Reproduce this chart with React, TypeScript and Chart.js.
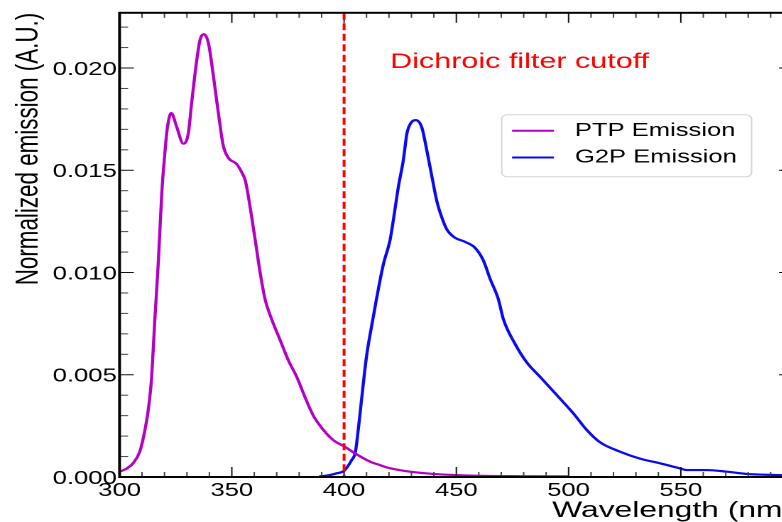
import { useEffect, useRef } from 'react';
import { Chart, registerables } from 'chart.js';

Chart.register(...registerables);

// ---------------- data ----------------
const ptpWavelength = [300, 303, 306, 309, 311, 312.8, 314.3, 315.5, 316.6, 317.3, 318.8, 320.3, 321.2, 323, 325.5, 328.4, 330.6, 332.2, 334.4, 335.9, 337.6, 339.6, 341.8, 344, 346.2, 348.5, 352.2, 354.4, 356, 357.4, 360.4, 362.6, 364.8, 367.8, 371.5, 375.2, 378.9, 382.6, 386.3, 390.8, 395.2, 400, 405.7, 411.6, 416, 419, 424, 429.4, 439.8, 450, 459, 480, 500];
const ptpEmission = [0.00026, 0.0004, 0.00067, 0.00124, 0.00214, 0.0033, 0.0049, 0.0073, 0.0093, 0.0106, 0.0139, 0.016, 0.017, 0.0178, 0.0171, 0.0163, 0.0168, 0.0184, 0.0204, 0.0214, 0.02165, 0.0212, 0.0196, 0.0178, 0.0162, 0.0156, 0.0153, 0.0149, 0.0145, 0.0137, 0.0116, 0.01, 0.0087, 0.0077, 0.0067, 0.0057, 0.0049, 0.0039, 0.003, 0.0023, 0.0018, 0.0015, 0.0011, 0.00075, 0.00058, 0.00047, 0.00035, 0.00026, 0.00015, 0.00009, 0.00006, 0.00004, 0.00003];

const g2pWavelength = [389, 393, 396.7, 400, 403.4, 405, 406.4, 408, 410, 412.3, 414.6, 417.5, 420.5, 422, 424.2, 426.4, 428, 429.7, 431.9, 434.6, 436.8, 439.1, 441.3, 443.5, 445.8, 449.4, 453.9, 458.4, 462, 465, 468.7, 471, 476.2, 481.4, 487.3, 494.8, 502.2, 508.1, 514, 522.9, 531.8, 540.8, 549.7, 552.6, 561.6, 570.5, 579.4, 591.2, 600];
const g2pEmission = [0.00003, 0.00008, 0.00018, 0.0003, 0.00083, 0.0012, 0.0024, 0.004, 0.0059, 0.0074, 0.0088, 0.0104, 0.0116, 0.0126, 0.0142, 0.0155, 0.0168, 0.0173, 0.01745, 0.0171, 0.016, 0.0147, 0.0135, 0.0127, 0.0121, 0.0117, 0.0115, 0.0112, 0.0106, 0.0097, 0.0087, 0.0077, 0.0065, 0.0056, 0.0049, 0.004, 0.0031, 0.0023, 0.0017, 0.00124, 0.0009, 0.00067, 0.00042, 0.00034, 0.00034, 0.00026, 0.00015, 0.0001, 0.00007];

const seriesLabels = ['PTP Emission', 'G2P Emission'];
const seriesColors = ['#b300c3', '#0a0af0'];

const xMajorTicks = [300, 350, 400, 450, 500, 550, 600];
const yMajorTicks = [0, 0.005, 0.01, 0.015, 0.02];
const X_MIN = 300;
const X_MAX = 600;
const Y_MIN = 0;
const Y_MAX = 0.0227;
const X_MINOR_STEP = 10;
const Y_MINOR_STEP = 0.001;

const cutoffWavelength = 400;
const cutoffLabel = 'Dichroic filter cutoff';
const cutoffLabelAt = { x: 420.5, y: 0.0203 };

const xTitle = 'Wavelength (nm)';
const yTitle = 'Normalized emission (A.U.)';

// ---------------- layout ----------------
const STRETCH = 1.42;
const CANVAS_W = 575;
const CANVAS_H = 522;
const PLOT_LEFT = 84.2;
const PLOT_TOP = 12;
const PLOT_BOTTOM = 477;
const PLOT_RIGHT = 558.5;
const FONT = "'Liberation Sans', Arial, Helvetica, sans-serif";

const rootFramePlugin = {
  id: 'rootFrame',
  afterDatasetsDraw(chart: any) {
    const { ctx, chartArea: a, scales } = chart;
    const x = scales.x;
    const y = scales.y;
    ctx.save();

    const seg = (x1: number, y1: number, x2: number, y2: number) => {
      ctx.beginPath();
      ctx.moveTo(x1, y1);
      ctx.lineTo(x2, y2);
      ctx.stroke();
    };

    // inside ticks on all four sides
    ctx.lineWidth = 1;
    for (let i = 0; X_MIN + i * X_MINOR_STEP <= X_MAX + 1e-9; i++) {
      const v = X_MIN + i * X_MINOR_STEP;
      const px = x.getPixelForValue(v);
      const major = xMajorTicks.includes(v);
      const len = major ? 10 : 5;
      ctx.strokeStyle = major ? '#111' : '#444';
      seg(px, a.bottom, px, a.bottom - len);
      seg(px, a.top, px, a.top + len);
    }
    for (let i = 0; Y_MIN + i * Y_MINOR_STEP <= Y_MAX + 1e-12; i++) {
      const v = Y_MIN + i * Y_MINOR_STEP;
      const py = y.getPixelForValue(v);
      const major = i % 5 === 0;
      const len = major ? 10 : 6;
      ctx.strokeStyle = major ? '#111' : '#444';
      seg(a.left, py, a.left + len, py);
      seg(a.right, py, a.right - len, py);
    }

    // dichroic cutoff line
    const cx = x.getPixelForValue(cutoffWavelength);
    ctx.strokeStyle = '#ff0000';
    ctx.lineWidth = 2;
    ctx.setLineDash([7, 3.5]);
    seg(cx, a.top, cx, a.bottom);
    ctx.setLineDash([]);

    ctx.fillStyle = '#ff0000';
    ctx.font = `21.5px ${FONT}`;
    ctx.textAlign = 'left';
    ctx.textBaseline = 'middle';
    ctx.fillText(cutoffLabel, x.getPixelForValue(cutoffLabelAt.x), y.getPixelForValue(cutoffLabelAt.y));

    // frame
    ctx.strokeStyle = '#000';
    ctx.lineWidth = 2;
    ctx.strokeRect(a.left, a.top, a.right - a.left, a.bottom - a.top);

    // legend box inside the frame
    const lw = 176;
    const lh = 62;
    const lx = a.right - 205.2;
    const ly = a.top + 102;
    ctx.beginPath();
    ctx.roundRect(lx, ly, lw, lh, 4);
    ctx.fillStyle = '#fff';
    ctx.fill();
    ctx.strokeStyle = '#d6d6d6';
    ctx.lineWidth = 1;
    ctx.stroke();
    ctx.font = `18px ${FONT}`;
    ctx.textAlign = 'left';
    ctx.textBaseline = 'middle';
    chart.data.datasets.forEach((ds: any, i: number) => {
      const ry = ly + 16 + i * 26.7;
      ctx.strokeStyle = ds.borderColor;
      ctx.lineWidth = 2;
      seg(lx + 7.3, ry, lx + 36.8, ry);
      ctx.fillStyle = '#000';
      ctx.fillText(ds.label, lx + 51.6, ry);
    });

    ctx.restore();
  },
};

export default function App() {
  const ref = useRef<HTMLCanvasElement | null>(null);

  useEffect(() => {
    if (!ref.current) return;
    Chart.defaults.font.family = FONT;
    const chart = new Chart(ref.current, {
      type: 'line',
      data: {
        datasets: [
          {
            label: seriesLabels[0],
            data: ptpWavelength.map((w, i) => ({ x: w, y: ptpEmission[i] })),
            borderColor: seriesColors[0],
            borderWidth: 2.2,
            pointRadius: 0,
            tension: 0.4,
            cubicInterpolationMode: 'monotone',
            fill: false,
          },
          {
            label: seriesLabels[1],
            data: g2pWavelength.map((w, i) => ({ x: w, y: g2pEmission[i] })),
            borderColor: seriesColors[1],
            borderWidth: 2.2,
            pointRadius: 0,
            tension: 0.4,
            cubicInterpolationMode: 'monotone',
            fill: false,
          },
        ],
      },
      options: {
        responsive: false,
        maintainAspectRatio: false,
        animation: false,
        devicePixelRatio: 2,
        events: [],
        layout: { padding: { left: 0, top: PLOT_TOP, right: CANVAS_W - PLOT_RIGHT, bottom: 0 } },
        plugins: { legend: { display: false }, tooltip: { enabled: false } },
        scales: {
          x: {
            type: 'linear',
            min: X_MIN,
            max: X_MAX,
            afterBuildTicks: (s: any) => {
              s.ticks = xMajorTicks.map((v) => ({ value: v }));
            },
            afterFit: (s: any) => {
              s.height = CANVAS_H - PLOT_BOTTOM;
            },
            grid: { display: false, drawTicks: false },
            border: { display: false },
            ticks: {
              padding: 3,
              color: '#000',
              font: { size: 18 },
              maxRotation: 0,
              autoSkip: false,
              callback: (v: any) => (v >= X_MAX ? '' : String(v)),
            },
            title: {
              display: true,
              text: xTitle,
              align: 'end',
              color: '#000',
              font: { size: 22.4, lineHeight: 1 },
              padding: 0,
            },
          },
          y: {
            type: 'linear',
            min: Y_MIN,
            max: Y_MAX,
            afterBuildTicks: (s: any) => {
              s.ticks = yMajorTicks.map((v) => ({ value: v }));
            },
            afterFit: (s: any) => {
              s.width = PLOT_LEFT;
            },
            grid: { display: false, drawTicks: false },
            border: { display: false },
            ticks: {
              padding: 2,
              labelOffset: 2,
              color: '#000',
              font: { size: 18 },
              callback: (v: any) => Number(v).toFixed(3),
            },
            title: {
              display: true,
              text: yTitle,
              align: 'end',
              color: '#000',
              font: { size: 22.4, lineHeight: 1 },
              padding: { top: 9, bottom: 0 },
            },
          },
        },
      },
      plugins: [rootFramePlugin],
    } as any);
    return () => chart.destroy();
  }, []);

  return (
    <div
      style={{
        position: 'fixed',
        left: 0,
        top: 0,
        width: 782,
        height: 522,
        overflow: 'hidden',
        background: '#fff',
      }}
    >
      <div
        style={{
          width: CANVAS_W,
          height: CANVAS_H,
          transform: `scaleX(${STRETCH})`,
          transformOrigin: '0 0',
        }}
      >
        <canvas
          ref={ref}
          width={CANVAS_W}
          height={CANVAS_H}
          style={{ display: 'block', width: CANVAS_W, height: CANVAS_H }}
        />
      </div>
    </div>
  );
}
